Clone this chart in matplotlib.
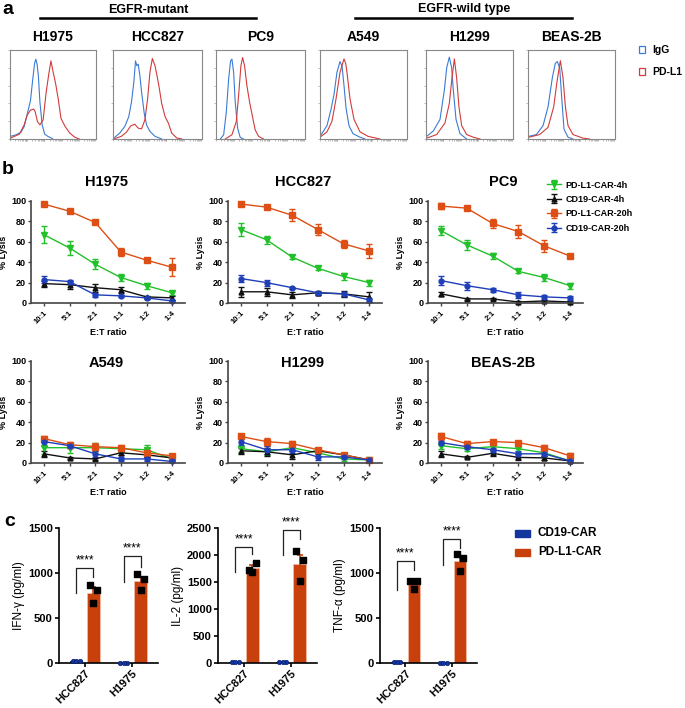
import matplotlib
matplotlib.use("Agg")
import matplotlib.pyplot as plt
import numpy as np
from matplotlib.lines import Line2D
from matplotlib.patches import Rectangle

plt.rcParams["font.family"] = ["Liberation Sans", "DejaVu Sans"]

W, H = 685, 708

# ---------------- panel a: flow histograms (x, y in % of box) ----------------
hist_cells = ["H1975", "HCC827", "PC9", "A549", "H1299", "BEAS-2B"]
hist_boxes = [(10, 96), (113, 202), (216, 305), (320, 407), (426, 513), (528, 615)]

igg_x = [
    [0.7, 7.3, 12.8, 16.5, 20.1, 23.8, 26.4, 28.6, 30, 31.5, 33, 34.8, 37.4, 40.3, 44, 49.5],
    [1.9, 7.5, 13.2, 17.7, 20.8, 23.4, 25.3, 26.8, 28.3, 30.2, 32.1, 35.1, 37.7, 41.5, 47.2, 54.7],
    [4.9, 8.6, 11.6, 14.2, 16.4, 17.9, 19.8, 21.6, 24.3, 27.2, 31],
    [0, 3.4, 8, 12.6, 16.1, 19.5, 23, 25.3, 27.6, 29.9, 33.3, 37.9, 46, 51.7],
    [0.8, 8.4, 16.1, 21.1, 23.8, 26.8, 29.5, 31.4, 34.5, 39.1, 46.7],
    [1.1, 9.7, 17.3, 23, 28, 31.4, 33.7, 36.4, 38.7, 41.4, 46, 51.7],
]
igg_y = [
    [3, 4.8, 7.7, 14, 28.4, 43, 66.8, 85, 89.7, 84, 70.8, 41.3, 15.9, 5.5, 3, 0.4],
    [1.8, 6.6, 14, 25, 41.7, 63.8, 87.8, 82.3, 84.1, 71.2, 52.8, 28.8, 15.9, 8.5, 3, 0],
    [0, 4.8, 30.6, 67.5, 87.8, 89.7, 75, 41.7, 12.2, 1.8, 0],
    [3, 8, 15, 33, 50, 75, 87, 82, 60, 35, 15, 6, 2, 0],
    [3, 9, 22, 55, 80, 92, 80, 55, 22, 6, 0],
    [3, 5, 15, 36, 69, 85, 87, 80, 47, 11, 2, 0],
]
pdl1_x = [
    [0.7, 11, 16.5, 20.1, 23.8, 27.5, 29.3, 31.9, 34.8, 38.5, 42.1, 45.1, 47.6, 50.2, 53.1, 56, 59.3, 64.1, 69.6, 75.1, 80.6],
    [1.9, 9.4, 15.1, 20, 24.5, 28.3, 32.1, 35.8, 38.9, 41.5, 44.2, 47.2, 49.8, 52.1, 54.7, 58.5, 62.3, 66, 71.7, 77.4],
    [10.4, 17.9, 22.8, 25.4, 28, 29.9, 32.1, 34.7, 37.7, 41, 44, 47.8, 53.4],
    [0, 8, 13.8, 18.4, 23, 27.6, 29.5, 31, 34.5, 39.1, 46, 55.2, 69],
    [0.8, 12.3, 21.8, 26.8, 29.9, 32.6, 35.2, 37.9, 41, 46.7, 54.4, 62.1],
    [1.1, 13.4, 23, 29.5, 33.4, 37.2, 40.2, 43, 46, 51.7, 63.2, 70.9],
]
pdl1_y = [
    [1, 5.5, 15.9, 27, 32.5, 33.6, 30.6, 19.6, 15.9, 21.4, 52.8, 73, 87.8, 75, 62, 45.4, 23.2, 14, 6.6, 2.2, 0],
    [0.4, 3, 7.7, 14.8, 16.6, 12.2, 11.4, 21.4, 45.4, 75, 90.4, 82.3, 69.4, 56.5, 39.9, 25.1, 17.7, 6.6, 1.1, 0],
    [0, 4.8, 19.6, 49, 82.3, 91.5, 82.3, 60.1, 41.7, 25.1, 10.3, 3, 0],
    [2, 8, 20, 45, 75, 90, 85, 75, 45, 22, 8, 3, 0],
    [1, 5, 18, 40, 69, 90, 69, 36, 15, 5, 2, 0],
    [2, 5, 13, 36, 65, 88, 69, 36, 15, 5, 1, 0],
]

# ---------------- panel b: % lysis ----------------
ratios = ["10:1", "5:1", "2:1", "1:1", "1:2", "1:4"]
series = ["PD-L1-CAR-4h", "CD19-CAR-4h", "PD-L1-CAR-20h", "CD19-CAR-20h"]
lysis_cells = ["H1975", "HCC827", "PC9", "A549", "H1299", "BEAS-2B"]

H1975_mean = [[67, 54, 38, 25, 17, 10], [19, 18, 15, 13, 6, 5], [97, 90, 79, 50, 42, 35], [23, 21, 8, 7, 5, 2]]
H1975_err = [[8, 7, 5, 3, 3, 2], [3, 4, 4, 3, 1, 2], [1, 2, 2, 4, 1, 9], [3, 2, 2, 1, 1, 1]]
HCC827_mean = [[72, 62, 45, 34, 26, 20], [11, 11, 8, 10, 9, 6], [97, 94, 86, 72, 58, 51], [24, 20, 15, 10, 9, 3]]
HCC827_err = [[6, 4, 2, 2, 3, 3], [5, 4, 3, 2, 3, 5], [1, 2, 6, 5, 4, 7], [3, 3, 1, 1, 2, 2]]
PC9_mean = [[71, 57, 46, 31, 25, 17], [9, 4, 4, 1, 2, 1], [95, 93, 78, 70, 56, 46], [22, 17, 13, 8, 6, 5]]
PC9_err = [[4, 5, 3, 2, 3, 3], [2, 1, 1, 1, 1, 1], [3, 1, 4, 6, 6, 2], [4, 4, 2, 3, 2, 2]]
A549_mean = [[15, 15, 15, 14, 13, 4], [9, 5, 4, 10, 8, 5], [24, 18, 16, 15, 10, 7], [21, 17, 9, 4, 4, 1.5]]
A549_err = [[6, 5, 5, 3, 5, 2], [3, 1, 1, 2, 2, 1], [2, 3, 4, 3, 2, 2], [4, 2, 3, 2, 2, 1]]
H1299_mean = [[14, 11, 15, 10, 4, 3], [12, 11, 8, 12, 8, 3], [26, 21, 19, 13, 8, 3], [21, 13, 13, 6, 6, 3]]
H1299_err = [[3, 3, 3, 3, 2, 1], [3, 4, 4, 2, 2, 1], [2, 4, 3, 2, 2, 1], [3, 4, 3, 3, 2, 2]]
BEAS2B_mean = [[17, 14, 16, 14, 10, 2], [9, 5.5, 9.5, 5.5, 5, 2], [26, 19, 21, 20, 15, 7], [20, 16, 13, 9, 9, 2]]
BEAS2B_err = [[3, 2, 3, 3, 3, 1], [3, 1, 3, 3, 2, 1], [3, 3, 2, 2, 3, 3], [2, 2, 2, 3, 2, 1]]

# ---------------- panel c: cytokines ----------------
groups = ["HCC827", "H1975"]
cyto_labels = ["IFN-γ (pg/ml)", "IL-2 (pg/ml)", "TNF-α (pg/ml)"]
cyto_ymax = [1500, 2500, 1500]
cyto_ticks = [[0, 500, 1000, 1500], [0, 500, 1000, 1500, 2000, 2500], [0, 500, 1000, 1500]]
cd19_pts = [[[20, 25, 18], [5, 5, 5]], [[20, 25, 15], [10, 10, 10]], [[10, 10, 10], [5, 5, 5]]]
pdl1_pts = [[[866, 811, 663], [985, 930, 811]],
            [[1720, 1861, 1689], [2070, 1916, 1523]],
            [[907, 915, 822], [1211, 1167, 1018]]]
# significance brackets: (top, left leg end, right leg end)
brackets = [[(1058, 774, 958), (1187, 903, 1069)],
            [(2140, 1690, 2027), (2457, 1996, 2303)],
            [(1137, 815, 1037), (1378, 1093, 1278)]]

c_green, c_black, c_orange, c_blue = "#22c02a", "#111111", "#dd4f14", "#1f3fb8"
bar_blue, bar_red = "#12359e", "#c8400c"


def px_axes(fig, x0, y0, x1, y1):
    return fig.add_axes([x0 / W, 1 - y1 / H, (x1 - x0) / W, (y1 - y0) / H])


def ftext(fig, x, y, s, **kw):
    fig.text(x / W, 1 - y / H, s, **kw)


def fline(fig, x0, x1, y, lw=1.8):
    fig.add_artist(Line2D([x0 / W, x1 / W], [1 - y / H, 1 - y / H], color="k", lw=lw))


def main():
    fig = plt.figure(figsize=(W / 100, H / 100), dpi=100)

    # ---- a ----
    ftext(fig, 2, 10, "a", fontsize=14, fontweight="bold", va="center")
    ftext(fig, 148, 10, "EGFR-mutant", fontsize=9, fontweight="bold", ha="center", va="center")
    fline(fig, 40, 256, 18)
    ftext(fig, 464, 9, "EGFR-wild type", fontsize=9, fontweight="bold", ha="center", va="center")
    fline(fig, 355, 572, 18)
    minor = np.concatenate([d * 20 + np.log10(np.arange(1, 10)) * 20 for d in range(5)])
    for i, cell in enumerate(hist_cells):
        x0, x1 = hist_boxes[i]
        ax = px_axes(fig, x0, 50, x1, 139)
        ax.plot(igg_x[i], igg_y[i], color="#3b7bd4", lw=0.8)
        ax.plot(pdl1_x[i], pdl1_y[i], color="#d23b3b", lw=0.8)
        ax.set_xlim(0, 100)
        ax.set_ylim(0, 100)
        for sp in ax.spines.values():
            sp.set_color("#888888")
            sp.set_linewidth(0.8)
        ax.set_xticks(minor)
        ax.set_yticks(np.arange(0, 101, 20))
        ax.tick_params(length=1.5, width=0.4, colors="#888888", labelbottom=False, labelleft=False)
        ftext(fig, (x0 + x1) / 2, 37, cell, fontsize=10, fontweight="bold", ha="center", va="center")
    fig.add_artist(Rectangle((639 / W, 1 - 53 / H), 6 / W, 7 / H, fill=False, ec="#3b7bd4", lw=0.9))
    fig.add_artist(Rectangle((639 / W, 1 - 75 / H), 6 / W, 7 / H, fill=False, ec="#d23b3b", lw=0.9))
    ftext(fig, 652, 50, "IgG", fontsize=7.5, fontweight="bold", va="center")
    ftext(fig, 652, 72, "PD-L1", fontsize=7.5, fontweight="bold", va="center")

    # ---- b ----
    ftext(fig, 2, 170, "b", fontsize=14, fontweight="bold", va="center")
    means = [H1975_mean, HCC827_mean, PC9_mean, A549_mean, H1299_mean, BEAS2B_mean]
    errs = [H1975_err, HCC827_err, PC9_err, A549_err, H1299_err, BEAS2B_err]
    colors = [c_green, c_black, c_orange, c_blue]
    markers = ["v", "^", "s", "o"]
    msizes = [4, 3.5, 4.5, 3.5]
    xs = np.arange(len(ratios))
    col_x = [(31, 185), (228, 382), (428, 583)]
    row_y = [(201, 303), (361, 463)]
    handles = []
    for k, cell in enumerate(lysis_cells):
        r, c = divmod(k, 3)
        ax = px_axes(fig, col_x[c][0], row_y[r][0], col_x[c][1], row_y[r][1])
        for s in range(4):
            h = ax.errorbar(xs, means[k][s], yerr=errs[k][s], color=colors[s], marker=markers[s],
                            ms=msizes[s], lw=1.0, elinewidth=1.0, capsize=2, capthick=1.0,
                            clip_on=False, label=series[s])
            if k == 0:
                handles.append(h)
        ax.set_xlim(-0.5, 5.5)
        ax.set_ylim(0, 100)
        ax.set_yticks([0, 20, 40, 60, 80, 100])
        ax.set_xticks(xs)
        ax.set_xticklabels(ratios, rotation=45, ha="right", rotation_mode="anchor")
        ax.spines["top"].set_visible(False)
        ax.spines["right"].set_visible(False)
        for sp in ["left", "bottom"]:
            ax.spines[sp].set_linewidth(1.2)
            ax.spines[sp].set_color("#444444")
        ax.tick_params(axis="y", labelsize=6.5, length=2.5, width=1, color="#444444", pad=1)
        ax.tick_params(axis="x", labelsize=5.5, length=2.5, width=1, color="#444444", pad=2)
        for lab in ax.get_yticklabels() + ax.get_xticklabels():
            lab.set_fontweight("bold")
        ax.set_ylabel("% Lysis", fontsize=6.5, fontweight="bold")
        ax.yaxis.set_label_coords(-0.148, 0.5)
        ax.set_xlabel("E:T ratio", fontsize=6.5, fontweight="bold", labelpad=2)
        if r == 0:
            ftext(fig, (col_x[c][0] + col_x[c][1]) / 2 - 2, 182, cell, fontsize=10.5,
                  fontweight="bold", ha="center", va="center")
        else:
            ftext(fig, (col_x[c][0] + col_x[c][1]) / 2 - 2, 363, cell, fontsize=10.5,
                  fontweight="bold", ha="center", va="center")
    fig.legend(handles=handles, labels=series, loc="upper left",
               bbox_to_anchor=(542 / W, 1 - 176 / H), frameon=False,
               prop={"size": 6.5, "weight": "bold"}, handlelength=1.6,
               labelspacing=0.6, handletextpad=0.5, borderpad=0)

    # ---- c ----
    ftext(fig, 4, 522, "c", fontsize=14, fontweight="bold", va="center")
    g = np.arange(len(groups))
    off = 0.18
    bw = 0.26
    jit = [-0.07, 0.07, 0.0]
    c_x = [(59, 158), (218, 317), (380, 477)]
    for p in range(3):
        ax = px_axes(fig, c_x[p][0], 528, c_x[p][1], 663)
        cd_mean = [np.mean(v) for v in cd19_pts[p]]
        pd_mean = [np.mean(v) for v in pdl1_pts[p]]
        pd_sem = [np.std(v, ddof=1) / np.sqrt(len(v)) for v in pdl1_pts[p]]
        ax.bar(g - off, cd_mean, width=bw, color=bar_blue, zorder=2)
        ax.bar(g + off, pd_mean, width=bw, color=bar_red, edgecolor="#f2b9a0", lw=0.6, zorder=2)
        ax.errorbar(g + off, pd_mean, yerr=pd_sem, fmt="none", ecolor=bar_red, elinewidth=1.2,
                    capsize=2.5, capthick=1.2, zorder=3)
        for i in range(len(groups)):
            ax.scatter(g[i] - off + np.array(jit), cd19_pts[p][i], marker="o", s=10,
                       color=bar_blue, edgecolor="#0a2070", lw=0.5, zorder=4, clip_on=False)
            ax.scatter(g[i] + off + np.array(jit), pdl1_pts[p][i], marker="s", s=16,
                       color="black", zorder=4)
            top, lft, rgt = brackets[p][i]
            ax.plot([g[i] - off, g[i] - off, g[i] + off, g[i] + off], [lft, top, top, rgt],
                    color="#222222", lw=0.9, zorder=4)
            ax.text(g[i], top + cyto_ymax[p] * 0.012, "****", ha="center", va="bottom",
                    fontsize=8.5)
        ax.set_xlim(-0.55, 1.55)
        ax.set_ylim(0, cyto_ymax[p])
        ax.set_yticks(cyto_ticks[p])
        ax.set_xticks(g)
        ax.set_xticklabels(groups, rotation=45, ha="right", rotation_mode="anchor")
        ax.spines["top"].set_visible(False)
        ax.spines["right"].set_visible(False)
        for sp in ["left", "bottom"]:
            ax.spines[sp].set_linewidth(1.2)
        ax.tick_params(axis="y", labelsize=8, length=3, width=1.2, pad=1.5)
        ax.tick_params(axis="x", labelsize=8, length=3, width=1.2, pad=1)
        for lab in ax.get_yticklabels() + ax.get_xticklabels():
            lab.set_fontweight("bold")
        ax.set_ylabel(cyto_labels[p], fontsize=8.5, labelpad=2)
    fig.add_artist(Rectangle((515 / W, 1 - 537 / H), 15 / W, 7 / H, color=bar_blue))
    fig.add_artist(Rectangle((515 / W, 1 - 556 / H), 15 / W, 7 / H, color=bar_red))
    ftext(fig, 538, 533, "CD19-CAR", fontsize=8.5, fontweight="bold", va="center")
    ftext(fig, 538, 552, "PD-L1-CAR", fontsize=8.5, fontweight="bold", va="center")

    fig.savefig("out.png", dpi=100)


if __name__ == "__main__":
    main()
